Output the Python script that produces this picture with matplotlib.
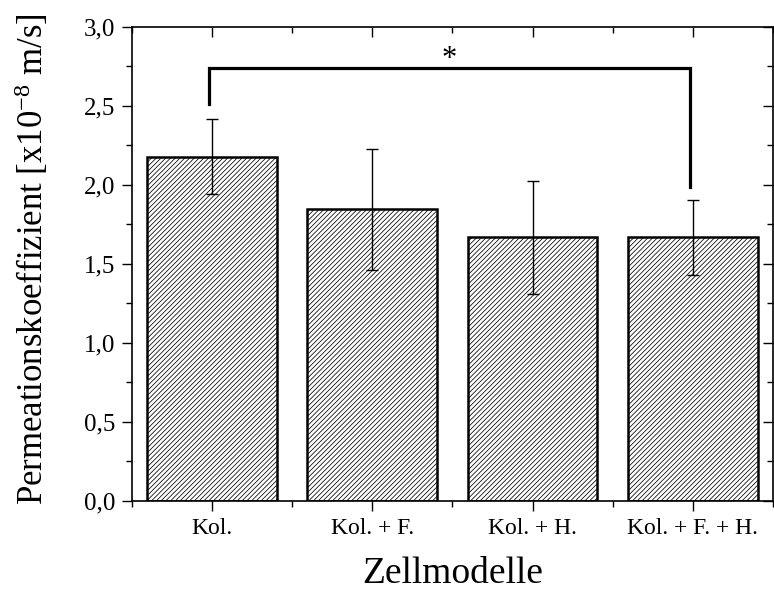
import matplotlib
matplotlib.use("Agg")
import matplotlib.pyplot as plt
import numpy as np
from matplotlib.ticker import MultipleLocator

# Datos
modelos = ["Kol.", "Kol. + F.", "Kol. + H.", "Kol. + F. + H."]
permeacion = [2.18, 1.845, 1.668, 1.668]
err_sup = [0.235, 0.38, 0.355, 0.235]
err_inf = [0.235, 0.38, 0.355, 0.235]

# Corchete de significancia (Kol. vs Kol. + F. + H.)
sig_par = (0, 3)
sig_altura = 2.74
sig_pies = (2.51, 1.985)

plt.rcParams['font.family'] = ['Liberation Serif', 'DejaVu Serif']
plt.rcParams['mathtext.default'] = 'regular'
plt.rcParams['hatch.linewidth'] = 0.55
plt.rcParams['hatch.color'] = '#555555'

fig = plt.figure(figsize=(7.74, 5.99), dpi=100)
ax = fig.add_axes([0.1705, 0.1636, 0.828, 0.7914])

x = np.arange(1, len(modelos) + 1)
ax.bar(x, permeacion, width=0.81, facecolor='white', edgecolor='black',
       linewidth=1.8, hatch='///////', zorder=2)
ax.errorbar(x, permeacion, yerr=[err_inf, err_sup], fmt='none', ecolor='black',
            elinewidth=1.0, capsize=4.5, capthick=1.0, zorder=3)

# corchete
x1, x2 = x[sig_par[0]] - 0.02, x[sig_par[1]] - 0.02
ax.plot([x1, x1, x2, x2], [sig_pies[0], sig_altura, sig_altura, sig_pies[1]],
        color='black', linewidth=2.3, solid_joinstyle='miter', zorder=4)
ax.text((x1 + x2) / 2, sig_altura + 0.005, '*', ha='center', va='baseline', fontsize=22)

ax.set_xlim(0.5, 4.5)
ax.set_ylim(0, 3.0)
ax.set_xticks(x)
ax.set_xticklabels(modelos)
ax.xaxis.set_minor_locator(MultipleLocator(0.5))
ax.yaxis.set_major_locator(MultipleLocator(0.5))
ax.yaxis.set_minor_locator(MultipleLocator(0.25))
ax.set_yticklabels([f"{v:.1f}".replace('.', ',') for v in ax.get_yticks()])

ax.tick_params(axis='both', which='major', length=7, width=1,
               direction='out', pad=5)
ax.tick_params(axis='x', which='major', labelsize=17)
ax.tick_params(axis='y', which='major', labelsize=18)
ax.tick_params(axis='both', which='minor', length=4, width=1, direction='out')
ax.tick_params(top=True, right=True, which='both')
for t in ax.xaxis.get_major_ticks() + ax.xaxis.get_minor_ticks():
    t.tick2line.set_marker(matplotlib.lines.TICKDOWN)
for t in ax.yaxis.get_major_ticks() + ax.yaxis.get_minor_ticks():
    t.tick2line.set_marker(matplotlib.lines.TICKLEFT)

for s in ax.spines.values():
    s.set_linewidth(1.2)

ax.set_xlabel('Zellmodelle', fontsize=27)
ax.xaxis.set_label_coords(0.5, -0.117)
ax.set_ylabel('Permeationskoeffizient [x10$^{-8}$ m/s]', fontsize=25)
ax.yaxis.set_label_coords(-0.127, 0.51)

fig.savefig('out.png', dpi=100)
